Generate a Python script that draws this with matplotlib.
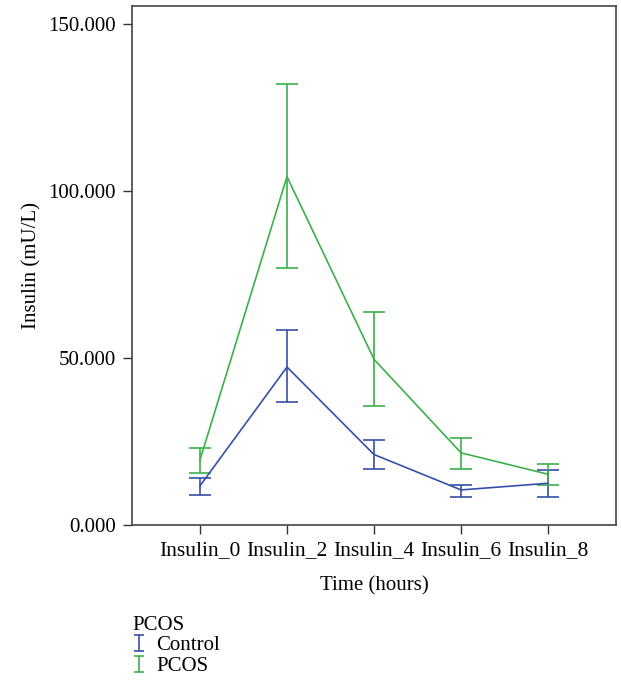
import matplotlib.pyplot as plt
from matplotlib.lines import Line2D
from matplotlib.path import Path

plt.rcParams['font.family'] = ['Liberation Serif', 'DejaVu Serif']

times = ["Insulin_0", "Insulin_2", "Insulin_4", "Insulin_6", "Insulin_8"]

control_mean = [11.7, 47.3, 21.1, 10.5, 12.5]
control_low = [9.0, 36.7, 16.7, 8.5, 8.3]
control_high = [14.1, 58.3, 25.6, 12.0, 16.4]

pcos_mean = [19.4, 104.3, 49.6, 21.6, 15.2]
pcos_low = [15.5, 77.1, 35.7, 16.8, 12.0]
pcos_high = [23.0, 132.0, 63.7, 26.2, 18.4]

blue = "#3550a8"
green = "#3cb04a"

fig = plt.figure(figsize=(6.21, 6.82), dpi=100)
ax = fig.add_axes([0.2126, 0.2302, 0.7794, 0.761])

x = list(range(len(times)))
for mean, low, high, c in [(control_mean, control_low, control_high, blue),
                           (pcos_mean, pcos_low, pcos_high, green)]:
    err = [[m - l for m, l in zip(mean, low)], [h - m for m, h in zip(mean, high)]]
    ax.errorbar(x, mean, yerr=err, color=c, lw=1.2, elinewidth=1.2,
                capsize=8, capthick=1.2)

ax.set_xlim(-0.78, 4.78)
ax.set_ylim(0, 155.4)
ax.set_xticks(x)
ax.set_xticklabels(times, fontsize=15.5)
ax.set_yticks([0, 50, 100, 150])
ax.set_yticklabels(["0.000", "50.000", "100.000", "150.000"], fontsize=15)
ax.tick_params(length=6.5, width=1, color="#333333", pad=5)
for s in ax.spines.values():
    s.set_color("#444444")
    s.set_linewidth(1.2)

ax.set_xlabel("Time (hours)", fontsize=15, labelpad=12)
ax.set_ylabel("Insulin (mU/L)", fontsize=15, labelpad=5)

ibar = Path([(-0.7, -1), (0.7, -1), (0, -1), (0, 1), (-0.7, 1), (0.7, 1)],
            [Path.MOVETO, Path.LINETO, Path.MOVETO, Path.LINETO, Path.MOVETO, Path.LINETO])
handles = [Line2D([], [], marker=ibar, ls="none", color=blue, markersize=11, markeredgewidth=1.2),
           Line2D([], [], marker=ibar, ls="none", color=green, markersize=11, markeredgewidth=1.2)]
fig.legend(handles, ["Control", "PCOS"], title="PCOS", loc="upper left",
           bbox_to_anchor=(0.213, 0.097), frameon=False, fontsize=15, title_fontsize=15,
           alignment="left", handlelength=0.6, handletextpad=0.55, labelspacing=0.05,
           borderaxespad=0, borderpad=0)

fig.savefig("out.png", dpi=100)
